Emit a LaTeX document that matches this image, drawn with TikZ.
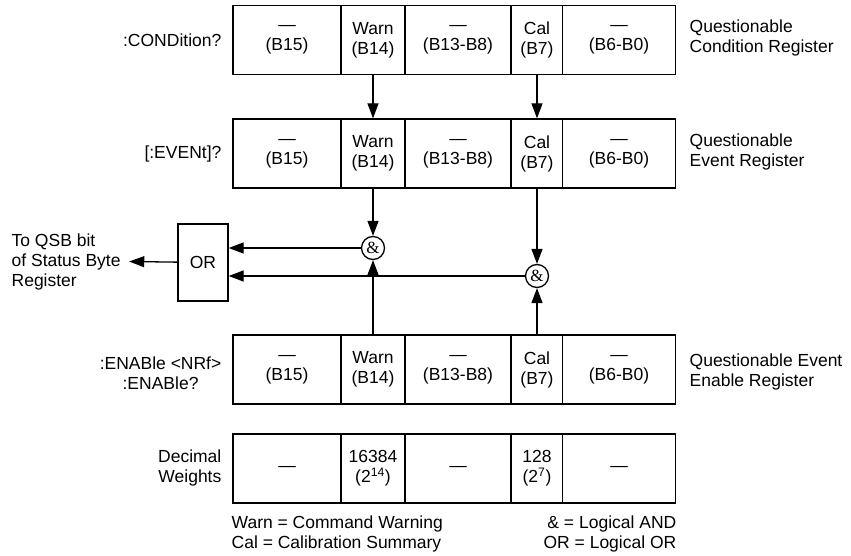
\documentclass[tikz,border=0pt]{standalone}
\usepackage{fontspec}
\setmainfont{Liberation Sans}
\newfontfamily\ampfont{Liberation Serif}
\usetikzlibrary{arrows.meta}

\tikzset{
  cell/.style={draw, rectangle, minimum height=69pt, inner sep=0pt, align=center},
  gate/.style={draw, circle, minimum size=23pt, inner sep=0pt, font=\ampfont\fontsize{17}{17}\selectfont},
  lbl/.style={align=left, inner sep=1pt}
}

\begin{document}
\begin{tikzpicture}[x=1pt, y=-1pt, line width=1.3pt, >={Triangle[length=15pt,width=11pt]},
  font=\fontsize{17.5}{20}\selectfont]
  \useasboundingbox (0,0) rectangle (851,556);
  % three registers with the same bits
  \foreach \r/\y in {cond/40, evnt/153.5, enab/369.5} {
    \node[cell, minimum width=108pt] (\r-a) at (287,\y) {—\\(B15)};
    \node[cell, minimum width=64pt]  (\r-w) at (373,\y) {Warn\\(B14)};
    \node[cell, minimum width=106pt] (\r-b) at (458,\y) {—\\(B13-B8)};
    \node[cell, minimum width=51pt]  (\r-c) at (537,\y) {Cal\\(B7)};
    \node[cell, minimum width=113pt] (\r-d) at (619,\y) {—\\(B6-B0)};
  }
  % decimal weights row
  \node[cell, minimum width=108pt] (dec-a) at (287,468.5) {—};
  \node[cell, minimum width=64pt]  (dec-w) at (373,468.5) {16384\\(2\textsuperscript{14})};
  \node[cell, minimum width=106pt] (dec-b) at (458,468.5) {—};
  \node[cell, minimum width=51pt]  (dec-c) at (537,468.5) {128\\(2\textsuperscript{7})};
  \node[cell, minimum width=113pt] (dec-d) at (619,468.5) {—};
  % labels left and right of the rows
  \node[anchor=east, inner sep=1pt] (lcond) at (223,40) {:CONDition?};
  \node[anchor=east, inner sep=1pt] (levnt) at (223,153.5) {[:EVENt]?};
  \node[anchor=east, align=center, inner sep=1pt] (lenab) at (223,373) {:ENABle <NRf>\\:ENABle?};
  \node[anchor=east, align=right, inner sep=1pt] (ldec) at (223,468) {Decimal\\Weights};
  \node[lbl, anchor=west] (rcond) at (688,38) {Questionable\\Condition Register};
  \node[lbl, anchor=west] (revnt) at (688,152) {Questionable\\Event Register};
  \node[lbl, anchor=west] (renab) at (688,372) {Questionable Event\\Enable Register};
  % gates
  \node[gate] (and1) at (373,248) {\&};
  \node[gate] (and2) at (537,276) {\&};
  \node[draw, rectangle, minimum width=50pt, minimum height=77pt, inner sep=0pt] (or) at (203,262.5) {OR};
  \node[lbl, anchor=west] (qsb) at (10,261.5) {To QSB bit\\of Status Byte\\Register};
  \coordinate (qsbtip) at ([xshift=7pt]qsb.east);
  % connectors
  \draw[->] (cond-w) -- (evnt-w);
  \draw[->] (cond-c) -- (evnt-c);
  \draw[->] (evnt-w) -- (and1);
  \draw[->] (evnt-c) -- (and2);
  \draw[->] (enab-w) -- (and1);
  \draw[->] (enab-c) -- (and2);
  \draw[->] (and1) -- (and1 -| or.east);
  \draw[->] (and2) -- (and2 -| or.east);
  \draw[->] (or) -- (qsbtip);
  % legend
  \node[lbl, anchor=west] (key1) at (230,534) {Warn = Command Warning\\Cal = Calibration Summary};
  \node[align=right, inner sep=1pt, anchor=east] (key2) at (678,534) {\& = Logical AND\\OR = Logical OR};
\end{tikzpicture}
\end{document}
